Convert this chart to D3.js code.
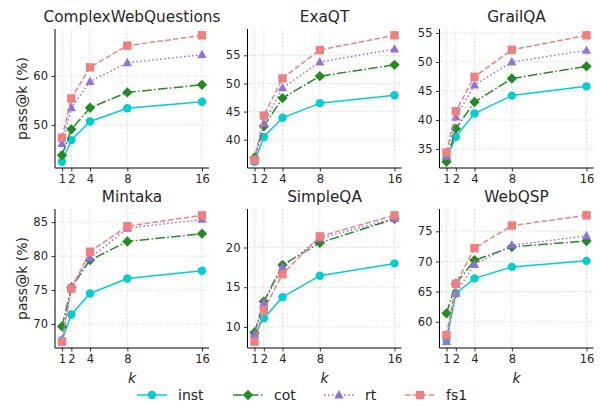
<!DOCTYPE html>
<html>
<head>
<meta charset="utf-8">
<script src="https://cdn.jsdelivr.net/npm/d3@7"></script>
<style>
  body { margin: 0; background: #fff; }
  text { font-family: "DejaVu Sans", sans-serif; fill: #262626; }
</style>
</head>
<body>
<svg id="chart" width="600" height="406"></svg>
<script>
// data
var ks = [1, 2, 4, 8, 16];
var datasets = ['ComplexWebQuestions', 'ExaQT', 'GrailQA', 'Mintaka', 'SimpleQA', 'WebQSP'];
var methods = ['inst', 'cot', 'rt', 'fs1'];

var instVals = [
    [42.5, 46.9, 50.7, 53.4, 54.75],
    [36.1, 40.5, 43.9, 46.5, 47.9],
    [33.3, 37.1, 41.1, 44.2, 45.8],
    [67.6, 71.4, 74.5, 76.7, 77.85],
    [9.0, 11.1, 13.75, 16.45, 18.0],
    [57.0, 64.7, 67.2, 69.1, 70.1]
];
var cotVals = [
    [43.8, 49.1, 53.5, 56.65, 58.2],
    [36.8, 42.4, 47.4, 51.3, 53.3],
    [32.8, 38.5, 43.1, 47.15, 49.25],
    [69.65, 75.4, 79.4, 82.15, 83.3],
    [9.3, 13.2, 17.8, 20.6, 23.6],
    [61.4, 66.3, 70.2, 72.4, 73.4]
];
var rtVals = [
    [46.2, 53.5, 58.85, 62.7, 64.35],
    [36.2, 42.9, 49.2, 53.8, 56.1],
    [33.7, 40.5, 46.0, 50.0, 52.0],
    [67.7, 75.5, 79.7, 84.1, 85.4],
    [9.1, 13.05, 17.55, 21.15, 23.65],
    [56.7, 64.7, 69.5, 72.7, 74.25]
];
var fs1Vals = [
    [47.4, 55.4, 61.75, 66.2, 68.3],
    [36.4, 44.3, 50.9, 55.95, 58.55],
    [34.4, 41.5, 47.45, 52.1, 54.6],
    [67.4, 75.2, 80.65, 84.4, 86.0],
    [8.15, 12.15, 16.65, 21.4, 24.05],
    [57.8, 66.3, 72.2, 75.95, 77.65]
];
var yTicks = [
    [50, 60],
    [40, 45, 50, 55],
    [35, 40, 45, 50, 55],
    [70, 75, 80, 85],
    [10, 15, 20],
    [60, 65, 70, 75]
];

var seriesVals = [instVals, cotVals, rtVals, fs1Vals];
var colors = ['#00CED1', '#228B22', '#9370DB', '#F08080'];
var dashes = ['none', '9.6,2.4,1.5,2.4', '1.5,2.5', '5.5,2.4'];

var svg = d3.select('#chart');
var colLeft = [55, 247.5, 439.5];
var rowTop = [29, 209];
var pw = 154, ph = 139;

function marker(g, i, color) {
    if (i === 0) {
        g.append('circle').attr('r', 4.2).attr('fill', color);
    } else if (i === 1) {
        g.append('path').attr('d', 'M0,-5.2L5.2,0L0,5.2L-5.2,0Z').attr('fill', color);
    } else if (i === 2) {
        g.append('path').attr('d', 'M0,-5L4.6,3.4L-4.6,3.4Z').attr('fill', color);
    } else {
        g.append('rect').attr('x', -4.2).attr('y', -4.2).attr('width', 8.4).attr('height', 8.4).attr('fill', color);
    }
}

datasets.forEach(function (name, p) {
    var left = colLeft[p % 3];
    var top = rowTop[Math.floor(p / 3)];
    var g = svg.append('g').attr('transform', 'translate(' + left + ',' + top + ')');

    var all = [];
    seriesVals.forEach(function (s) { all = all.concat(s[p]); });
    var lo = d3.min(all), hi = d3.max(all), pad = (hi - lo) * 0.05;

    var x = d3.scaleLinear().domain([0.25, 16.75]).range([0, pw]);
    var y = d3.scaleLinear().domain([lo - pad, hi + pad]).range([ph, 0]);

    // grid
    g.selectAll('.gx').data(ks).enter().append('line')
        .attr('x1', function (d) { return x(d); }).attr('x2', function (d) { return x(d); })
        .attr('y1', 0).attr('y2', ph)
        .attr('stroke', '#c8c8c8').attr('stroke-width', 0.8).attr('stroke-dasharray', '1,1.6');
    g.selectAll('.gy').data(yTicks[p]).enter().append('line')
        .attr('x1', 0).attr('x2', pw)
        .attr('y1', function (d) { return y(d); }).attr('y2', function (d) { return y(d); })
        .attr('stroke', '#c8c8c8').attr('stroke-width', 0.8).attr('stroke-dasharray', '1,1.6');

    var xa = g.append('g').attr('transform', 'translate(0,' + ph + ')')
        .call(d3.axisBottom(x).tickValues(ks).tickSize(3.5).tickPadding(3.5).tickSizeOuter(0));
    var ya = g.append('g')
        .call(d3.axisLeft(y).tickValues(yTicks[p]).tickSize(3.5).tickPadding(3.5).tickSizeOuter(0));
    [xa, ya].forEach(function (a) {
        a.select('.domain').attr('stroke', '#000').attr('stroke-width', 1);
        a.selectAll('.tick line').attr('stroke', '#000').attr('stroke-width', 0.8);
        a.selectAll('text').attr('font-size', '11.5px').attr('fill', '#262626');
    });
    // spines only over the plot area
    ya.select('.domain').attr('d', 'M0,0V' + ph);
    xa.select('.domain').attr('d', 'M0,0H' + pw);

    var line = d3.line().x(function (d, i) { return x(ks[i]); }).y(function (d) { return y(d); });
    seriesVals.forEach(function (s, m) {
        g.append('path').datum(s[p])
            .attr('d', line).attr('fill', 'none')
            .attr('stroke', colors[m]).attr('stroke-width', 1.5)
            .attr('stroke-dasharray', dashes[m]);
        s[p].forEach(function (v, i) {
            var mg = g.append('g').attr('transform', 'translate(' + x(ks[i]) + ',' + y(v) + ')');
            marker(mg, m, colors[m]);
        });
    });

    g.append('text').attr('x', pw / 2).attr('y', -7).attr('text-anchor', 'middle')
        .attr('font-size', '15.3px').text(name);

    if (p % 3 === 0) {
        g.append('text').attr('transform', 'translate(-28,' + (ph / 2) + ') rotate(-90)')
            .attr('text-anchor', 'middle').attr('font-size', '14px').text('pass@k (%)');
    }
    if (p >= 3) {
        g.append('text').attr('x', pw / 2).attr('y', ph + 35).attr('text-anchor', 'middle')
            .attr('font-size', '14px').attr('font-style', 'italic').text('k');
    }
});

// legend
var legX = [137, 233, 324, 405];
methods.forEach(function (m, i) {
    var lg = svg.append('g').attr('transform', 'translate(' + legX[i] + ',395)');
    lg.append('line').attr('x1', 0).attr('x2', 30).attr('y1', 0).attr('y2', 0)
        .attr('stroke', colors[i]).attr('stroke-width', 1.5).attr('stroke-dasharray', dashes[i]);
    var mg = lg.append('g').attr('transform', 'translate(15,0)');
    marker(mg, i, colors[i]);
    lg.append('text').attr('x', 41).attr('y', 5).attr('font-size', '14px').text(m);
});
</script>
</body>
</html>
